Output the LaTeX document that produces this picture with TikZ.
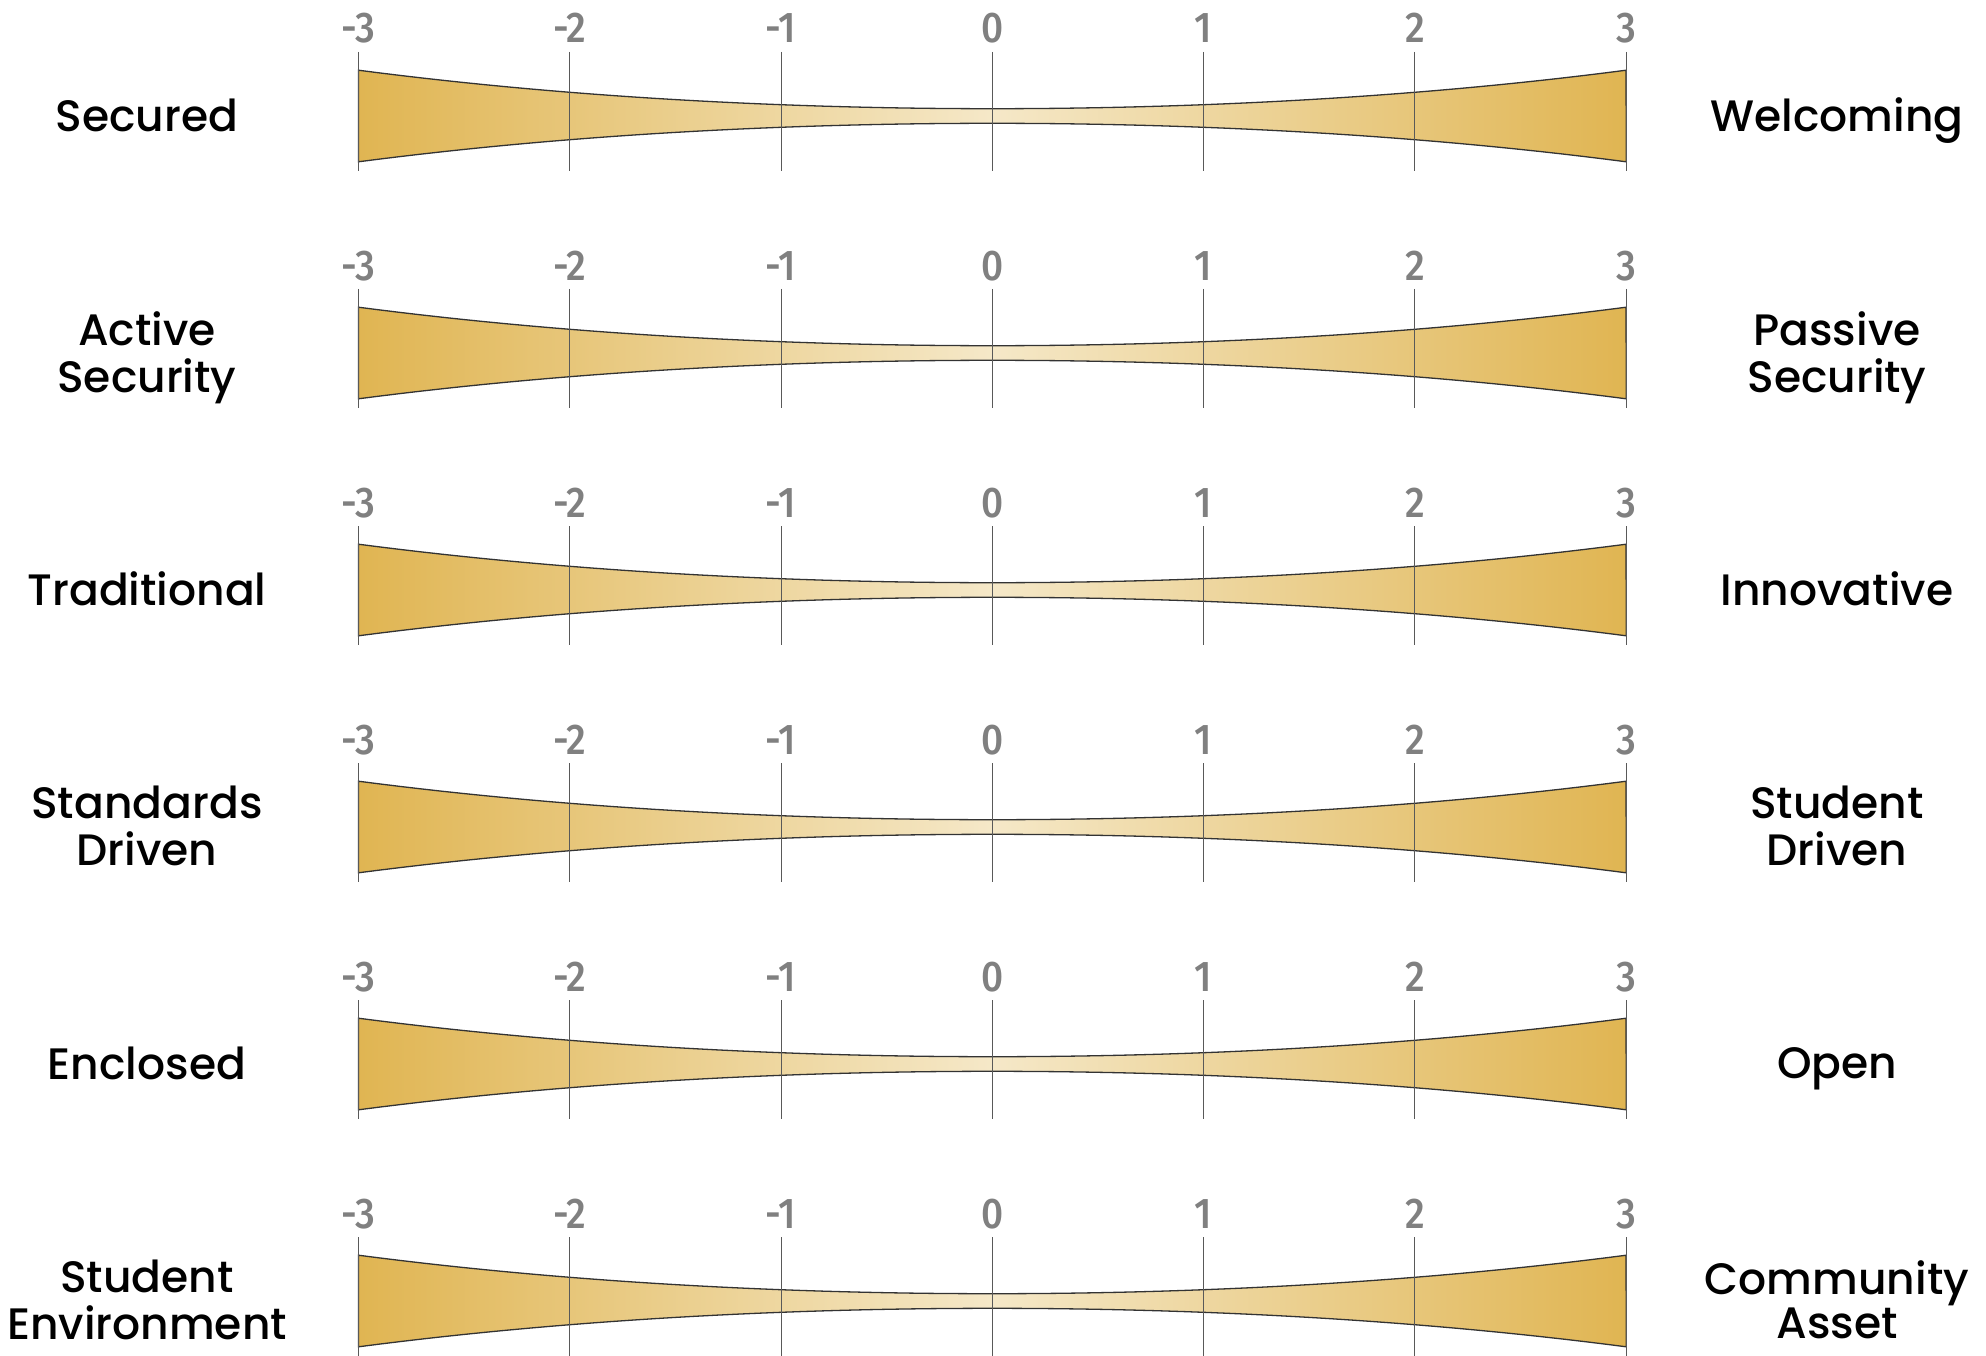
\documentclass[tikz,border=0pt]{standalone}
\usepackage{fontspec}
\setmainfont{Poppins}[UprightFont=* Medium]
\newfontfamily\numfont{Fira Sans}[UprightFont=* Medium]
\definecolor{goldend}{HTML}{E0B552}
\definecolor{goldmid}{HTML}{F5E8C8}
\definecolor{numgray}{HTML}{808080}
\newcommand{\labline}[1]{\vphantom{Ag}#1}
\begin{document}
\begin{tikzpicture}[x=1pt,y=1pt,
  band/.style={draw=black!80,line width=1.3pt,left color=goldend,right color=goldend,middle color=goldmid},
  tickline/.style={draw=black!65,line width=1pt},
  num/.style={anchor=base,text=numgray,inner sep=0pt,font=\numfont\fontsize{43}{43}\selectfont},
  lab/.style={align=center,inner sep=0pt,font=\fontsize{44}{44}\selectfont}]
\useasboundingbox (0,0) rectangle (1986,-1356);
\foreach \c/\lt/\rt [count=\i] in {
  -116/\labline{Secured}/\labline{Welcoming},
  -353/{\labline{Active}\\\labline{Security}}/{\labline{Passive}\\\labline{Security}},
  -590/\labline{Traditional}/\labline{Innovative},
  -827/{\labline{Standards}\\\labline{Driven}}/{\labline{Student}\\\labline{Driven}},
  -1064/\labline{Enclosed}/\labline{Open},
  -1301/{\labline{Student}\\\labline{Environment}}/{\labline{Community}\\\labline{Asset}}}{
  \shade[band] plot[domain=-3:3,samples=61] ({992.3+211.3*\x},{\c+7.3+3.965*(\x)*(\x)+0.0347*(\x)*(\x)*(\x)*(\x)})
     -- plot[domain=3:-3,samples=61] ({992.3+211.3*\x},{\c-7.3-3.965*(\x)*(\x)-0.0347*(\x)*(\x)*(\x)*(\x)}) -- cycle;
  \foreach \k [count=\j] in {-3,...,3}{
    \draw[tickline] ({992.3+211.3*\k},\c+64) -- ({992.3+211.3*\k},\c-55);
    \node[num] (n\i x\j) at ({992.3+211.3*\k},\c+73) {\scalebox{0.9}[1]{\k}};
  }
  \node[lab] (L\i) at (147,\c-5) {\lt};
  \node[lab] (R\i) at (1837,\c-5) {\rt};
}
\end{tikzpicture}
\end{document}
